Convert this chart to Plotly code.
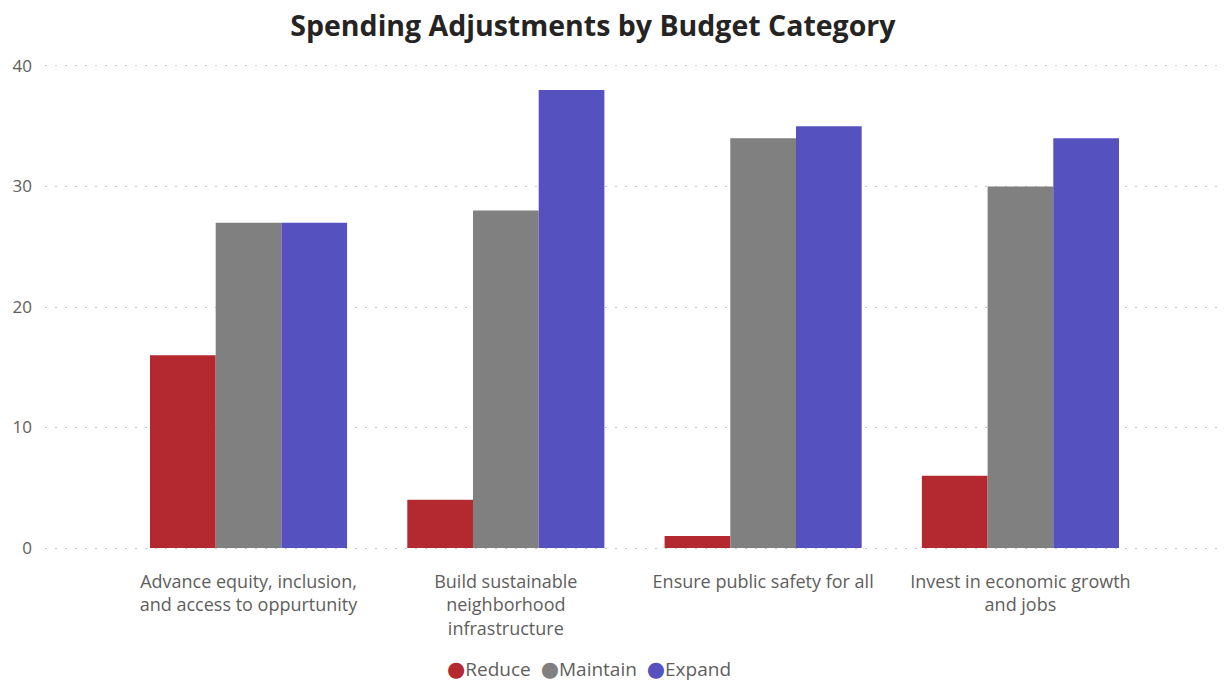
import plotly.graph_objects as go

categories = [
    "Advance equity, inclusion,<br>and access to oppurtunity",
    "Build sustainable<br>neighborhood<br>infrastructure",
    "Ensure public safety for all",
    "Invest in economic growth<br>and jobs",
]
reduce_vals = [16, 4, 1, 6]
maintain_vals = [27, 28, 34, 30]
expand_vals = [27, 38, 35, 34]

series = [
    ("Reduce", reduce_vals, "#B4282F"),
    ("Maintain", maintain_vals, "#808080"),
    ("Expand", expand_vals, "#5552BF"),
]

FONT = "Open Sans, Segoe UI, sans-serif"
TEXT = "#605E5C"

fig = go.Figure()
for name, vals, color in series:
    fig.add_trace(go.Bar(
        name=name, x=categories, y=vals,
        marker=dict(color=color, line=dict(width=0)),
        showlegend=False,
    ))

# compact legend row with circular swatches
legend_html = "&nbsp;&nbsp;".join(
    f"<span style='color:{color};font-family:DejaVu Sans;font-size:21px'>●</span>{name}"
    for name, _, color in series
)
fig.add_annotation(
    text=legend_html, xref="paper", yref="paper",
    x=0.461, xanchor="center", y=-0.239, yanchor="middle",
    showarrow=False, font=dict(family=FONT, size=19, color=TEXT),
)

fig.update_layout(
    width=1225, height=683,
    margin=dict(l=45, r=0, t=62, b=131, autoexpand=False),
    paper_bgcolor="white", plot_bgcolor="white",
    barmode="group", bargap=0.234, bargroupgap=0,
    showlegend=False,
    title=dict(
        text="<b>Spending Adjustments by Budget Category</b>",
        x=0.484, xanchor="center", y=0.962, yanchor="middle",
        font=dict(family=FONT, size=28.5, color="#252423"),
    ),
    font=dict(family=FONT, color=TEXT),
    xaxis=dict(
        range=[-0.791, 3.795], showgrid=False, showline=False, ticks="",
        tickfont=dict(family=FONT, size=18, color=TEXT),
        ticklabelstandoff=17,
    ),
    yaxis=dict(
        range=[-0.33, 40.33], tickvals=[0, 10, 20, 30, 40],
        showgrid=True, gridcolor="#C8C8C8", griddash="2px,8px", gridwidth=1,
        zeroline=False, showline=False, ticks="",
        tickfont=dict(family=FONT, size=17, color=TEXT),
        ticklabelstandoff=12,
    ),
)

fig.write_html("out.html")
